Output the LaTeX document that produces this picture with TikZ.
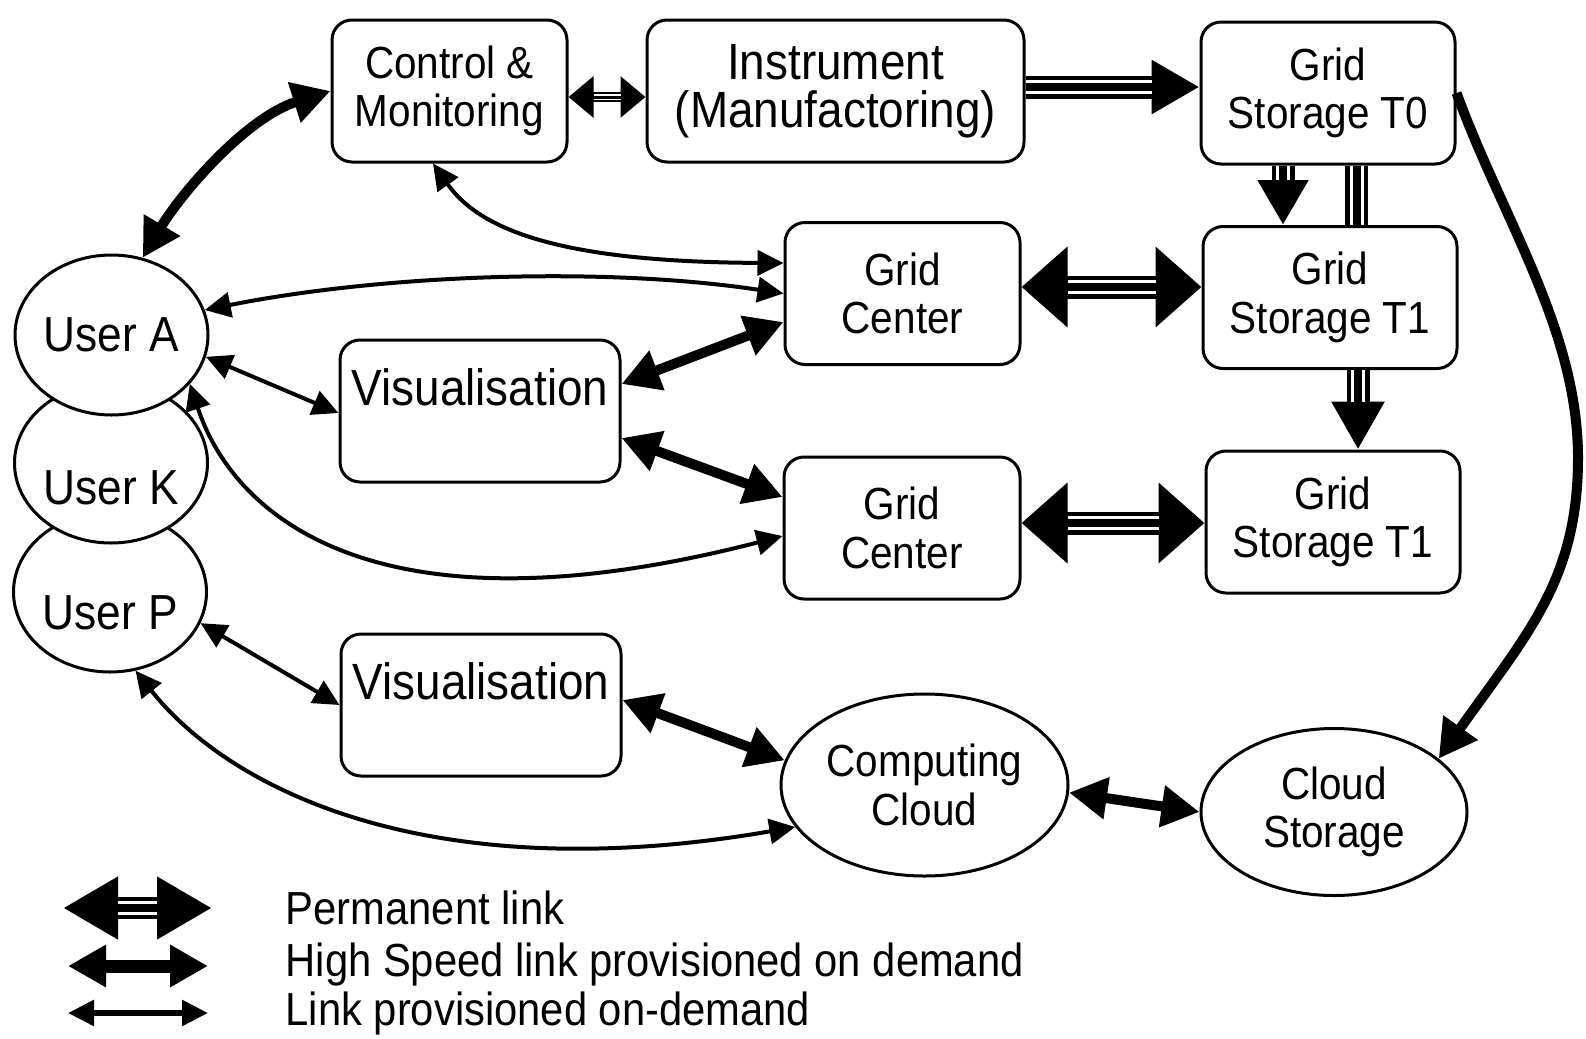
\documentclass[tikz,border=0pt]{standalone}
\usepackage{fontspec}
\setmainfont{Liberation Sans}[FakeStretch=0.9]
\usetikzlibrary{arrows.meta}
\usetikzlibrary{shapes.geometric}

\newcommand{\gridfont}{\fontsize{12.8}{13.8}\selectfont}
\newcommand{\visfont}{\fontsize{14.5}{13.8}\selectfont}
\newcommand{\userfont}{\fontsize{14}{15}\selectfont}
\newcommand{\legfont}{\fontsize{13.2}{14}\selectfont}

\tikzset{
  box/.style={draw, line width=0.3mm, rounded corners=2mm, inner sep=0pt,
    align=center, minimum height=14.2mm, font=\gridfont},
  visbox/.style={font=\visfont, text height=6.5mm, text depth=7.7mm},
  oval/.style={draw, ellipse, line width=0.3mm, inner sep=0pt, align=center,
    font=\gridfont},
  user/.style={oval, fill=white, minimum width=19.3mm, minimum height=16mm,
    font=\userfont},
  od/.style={line width=0.4mm,
    {Triangle[length=2.6mm,width=2.5mm]}-{Triangle[length=2.6mm,width=2.5mm]}},
  hs/.style={line width=1mm,
    {Triangle[length=3.8mm,width=4mm]}-{Triangle[length=3.8mm,width=4mm]}},
  perm/.style={line width=2.3mm},
  permin/.style={draw=white, line width=0.3mm, double=black,
    double distance=0.8mm}
}

\begin{document}
\begin{tikzpicture}[x=0.1mm, y=0.1mm]
  \useasboundingbox (0,0) rectangle (1586,-1038);

  % boxes
  \node[box, minimum width=23.5mm] (cm) at (449.5,-91) {Control \&\\Monitoring};
  \node[box, minimum width=37.7mm, font=\visfont] (ins) at (835.5,-91) {Instrument\\(Manufactoring)};
  \node[box, minimum width=25.4mm] (t0) at (1328,-93) {Grid\\Storage T0};
  \node[box, minimum width=23.5mm] (gc1) at (902.5,-293.5) {Grid\\Center};
  \node[box, minimum width=25.4mm] (t1a) at (1330,-297.5) {Grid\\Storage T1};
  \node[box, visbox, minimum width=28mm] (vis1) at (480,-411) {Visualisation};
  \node[box, minimum width=23.6mm] (gc2) at (902,-528) {Grid\\Center};
  \node[box, minimum width=25.4mm] (t1b) at (1333,-522) {Grid\\Storage T1};
  \node[box, visbox, minimum width=28mm] (vis2) at (481,-705) {Visualisation};
  \node[oval, minimum width=28.7mm, minimum height=18.2mm] (cc) at (924.5,-785) {Computing\\Cloud};
  \node[oval, minimum width=26.6mm, minimum height=16.7mm] (cs) at (1334,-812) {Cloud\\Storage};

  % users
  \node[user, text height=7.4mm, text depth=0mm] (up) at (110,-592) {User P};
  \node[user, text height=8.2mm, text depth=0mm] (uk) at (111,-463) {User K};
  \node[user] (ua) at (111.5,-335) {User A};

  % permanent links
  \coordinate (cmr) at ([yshift=-0.6mm]cm.east);
  \draw[perm, line width=1mm, {Triangle[length=2.5mm,width=4mm]}-{Triangle[length=2.5mm,width=4mm]}] (cmr) -- (cmr -| ins.west);
  \draw[permin, line width=0.15mm, double distance=0.3mm, shorten <=2.5mm, shorten >=2.5mm] (cmr) -- (cmr -| ins.west);

  \coordinate (insr) at ([yshift=0.4mm]ins.east);
  \draw[perm, -{Triangle[length=4.8mm,width=5.1mm]}] (insr) -- (insr -| t0.west);
  \draw[permin, shorten >=4.8mm] (insr) -- (insr -| t0.west);

  \coordinate (t0a) at ([xshift=-4.5mm]t0.south);
  \draw[perm, -{Triangle[length=4.5mm,width=4.8mm]}] (t0a) -- (t0a |- t1a.north);
  \draw[permin, shorten >=4.5mm] (t0a) -- (t0a |- t1a.north);

  \coordinate (t0b) at ([xshift=2.85mm]t0.south);
  \draw[perm] (t0b) -- (t0b |- t1a.north);
  \draw[permin] (t0b) -- (t0b |- t1a.north);

  \coordinate (t1d) at ([xshift=2.8mm]t1a.south);
  \draw[perm, -{Triangle[length=4.8mm,width=5mm]}] (t1d) -- (t1d |- t1b.north);
  \draw[permin, shorten >=4.8mm] (t1d) -- (t1d |- t1b.north);

  \coordinate (gc1r) at ([yshift=0.65mm]gc1.east);
  \draw[perm, {Triangle[length=4.6mm,width=7.8mm]}-{Triangle[length=4.6mm,width=7.8mm]}] (gc1r) -- (gc1r -| t1a.west);
  \draw[permin, shorten <=4.6mm, shorten >=4.6mm] (gc1r) -- (gc1r -| t1a.west);

  \coordinate (gc2r) at ([yshift=0.5mm]gc2.east);
  \draw[perm, {Triangle[length=4.6mm,width=7.8mm]}-{Triangle[length=4.6mm,width=7.8mm]}] (gc2r) -- (gc2r -| t1b.west);
  \draw[permin, shorten <=4.6mm, shorten >=4.6mm] (gc2r) -- (gc2r -| t1b.west);

  % high speed links
  \draw[hs] (ua.68) .. controls (180,-195) and (245,-118) .. (cm.west);
  \draw[hs] ([yshift=2.7mm]vis1.east) -- ([yshift=-2.85mm]gc1.west);
  \draw[hs] ([yshift=-2.7mm]vis1.east) -- ([yshift=3.1mm]gc2.west);
  \draw[hs] ([yshift=0.5mm]vis2.east) -- (cc.170);
  \draw[hs] (cc.-3) -- (cs.west);
  \draw[line width=1mm, -{Triangle[length=3.8mm,width=4mm]}] (t0.east)
    .. controls (1503,-220) and (1578,-330) .. (1578,-458)
    .. controls (1578,-580) and (1527,-634) .. (cs.27);

  % on-demand links
  \draw[od] ([xshift=-1.65mm]cm.south) .. controls (480,-230) and (560,-262) .. ([yshift=3.05mm]gc1.west);
  \draw[od] (ua.15) .. controls (380,-275) and (600,-266) .. (gc1.west);
  \draw[od] (ua.-13) -- ([yshift=-0.2mm]vis1.west);
  \draw[od] (ua.-32) .. controls (235,-520) and (380,-640) .. ([yshift=-0.8mm]gc2.west);
  \draw[od] (up.-19) -- (vis2.west);
  \draw[od] (up.-72) .. controls (230,-790) and (430,-890) .. (cc.198);

  % legend
  \coordinate (lp1) at (63,-908);
  \coordinate (lp2) at (212,-908);
  \draw[perm, line width=2.2mm, {Triangle[length=5.5mm,width=5.9mm]}-{Triangle[length=5.5mm,width=5.9mm]}] (lp1) -- (lp2);
  \draw[permin, shorten <=5.5mm, shorten >=5.5mm] (lp1) -- (lp2);
  \coordinate (lh1) at (68,-966);
  \coordinate (lh2) at (208,-966);
  \draw[hs, line width=1.3mm] (lh1) -- (lh2);
  \coordinate (lo1) at (68,-1013);
  \coordinate (lo2) at (208,-1013);
  \draw[od, line width=0.55mm] (lo1) -- (lo2);

  \node[anchor=base west, font=\legfont, inner sep=0pt] (lperm) at (285,-924.5) {Permanent link};
  \node[anchor=base west, font=\legfont, inner sep=0pt] (lhs) at (285,-976) {High Speed link provisioned on demand};
  \node[anchor=base west, font=\legfont, inner sep=0pt] (lod) at (285,-1025.5) {Link provisioned on-demand};
\end{tikzpicture}
\end{document}
